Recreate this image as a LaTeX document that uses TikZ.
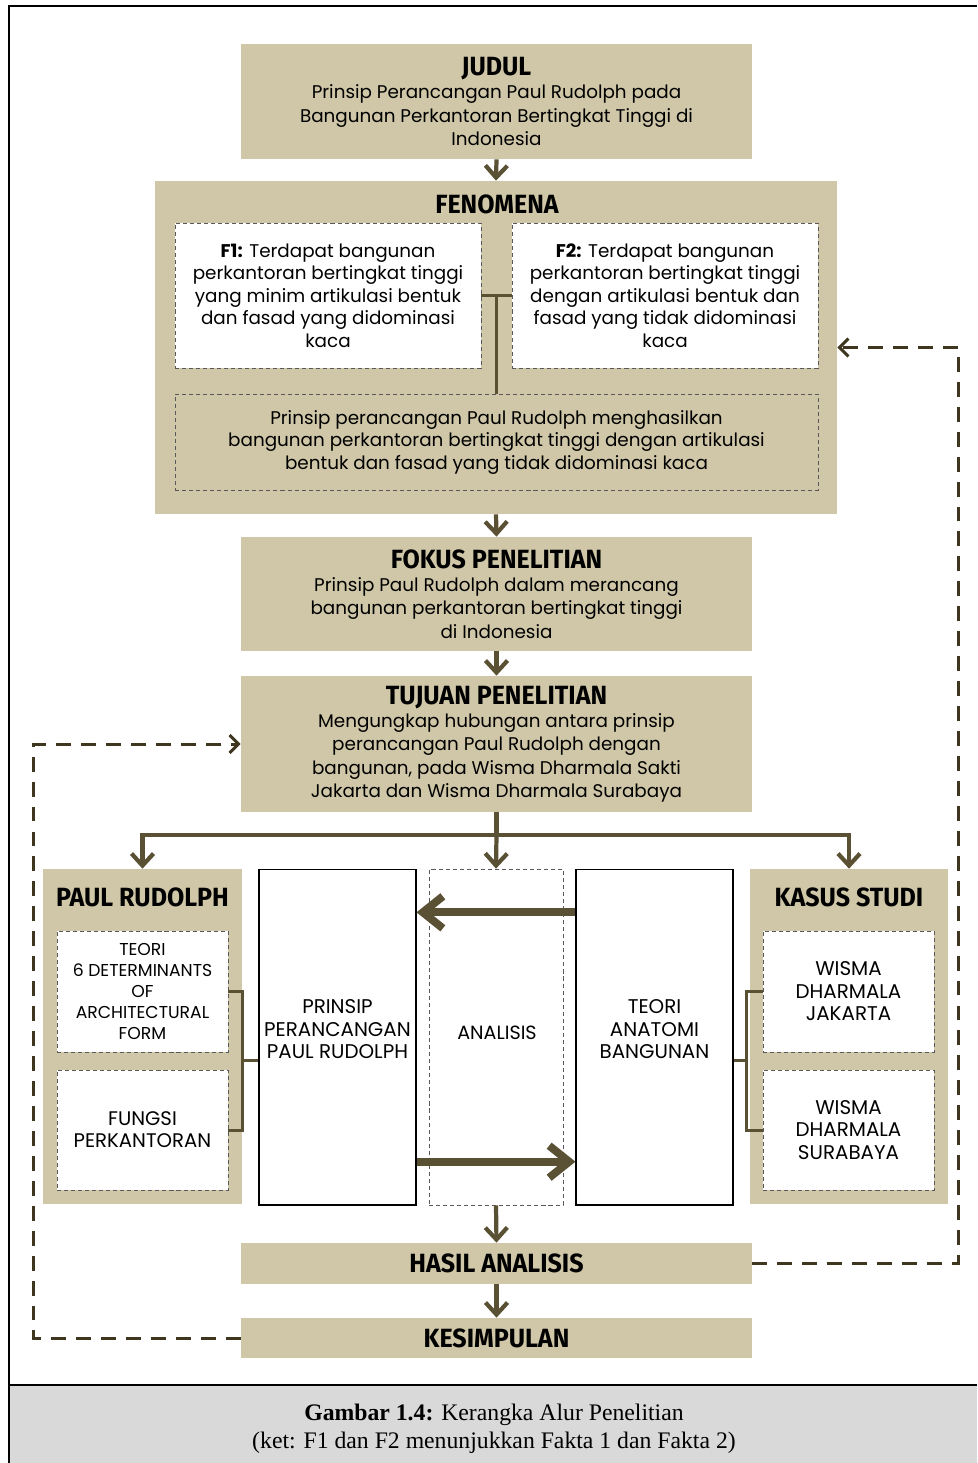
\documentclass[tikz,border=0pt]{standalone}
\usepackage{fontspec}
\setmainfont{Poppins}
\newfontfamily\headfont[FakeStretch=0.95]{Fira Sans}
\newfontfamily\capfont{Liberation Serif}
\usetikzlibrary{arrows.meta,calc}

\definecolor{khaki}{RGB}{207,199,167}
\definecolor{arrowbrown}{RGB}{90,81,52}
\definecolor{loopbrown}{RGB}{62,54,30}
\definecolor{capgray}{RGB}{217,217,217}

\newcommand{\boxtitle}[1]{{\headfont\bfseries\fontsize{15}{15}\selectfont #1}}
\newcommand{\flowarrow}[2]{\draw [flow] (#1) -- (#2);}

\tikzset{
  khakibox/.style={fill=khaki, minimum width=10.22cm, inner sep=0pt, align=center,
    font=\fontsize{10.45}{13.3}\selectfont},
  factbox/.style={fill=white, draw=black!65, line width=0.5pt, dash pattern=on 2.3pt off 1.7pt,
    minimum width=6.12cm, minimum height=2.9cm, inner sep=0pt, align=center,
    font=\fontsize{10.45}{12.8}\selectfont},
  colbox/.style={fill=white, draw=black, line width=0.6pt, minimum width=3.14cm,
    minimum height=6.72cm, inner sep=0pt},
  capsfont/.style={align=center, font=\fontsize{11.3}{12.8}\selectfont},
  flow/.style={draw=arrowbrown, line width=2.4pt, -{Straight Barb[length=2.4mm,width=4.4mm]}},
  bigflow/.style={draw=arrowbrown, line width=4.5pt, -{Straight Barb[length=4mm,width=6.4mm]}},
  link/.style={draw=arrowbrown, line width=1.7pt},
  loopback/.style={draw=loopbrown, line width=1.7pt, dash pattern=on 8.5pt off 5.7pt,
    -{Straight Barb[length=1.8mm,width=3.6mm]}}
}

\begin{document}
\begin{tikzpicture}[x=0.02cm,y=-0.02cm]
\useasboundingbox (0,0) rectangle (977,1463);
\fill[capgray] (9,1385) rectangle (977,1463);
\draw[line width=1.2pt] (9,1463) -- (9,6) -- (977,6);
\draw[line width=1pt] (9,1385) -- (977,1385);

\node[khakibox, minimum height=2.3cm] (judul) at (496.5,101.5) {\boxtitle{JUDUL}\\Prinsip Perancangan Paul Rudolph pada\\Bangunan Perkantoran Bertingkat Tinggi di\\Indonesia};

\node[khakibox, minimum width=13.64cm, minimum height=6.66cm] (fenomena) at (496,347.5) {};
\node (fentitle) at (497,204) {\boxtitle{FENOMENA}};
\node[factbox] (f1) at (328,295.5) {\textbf{F1:} Terdapat bangunan\\perkantoran bertingkat tinggi\\yang minim artikulasi bentuk\\dan fasad yang didominasi\\kaca};
\node[factbox] (f2) at (665,295.5) {\textbf{F2:} Terdapat bangunan\\perkantoran bertingkat tinggi\\dengan artikulasi bentuk dan\\fasad yang tidak didominasi\\kaca};
\node[factbox, fill=khaki, minimum width=12.86cm, minimum height=1.92cm] (hipotesis) at (496.5,442) {Prinsip perancangan Paul Rudolph menghasilkan\\bangunan perkantoran bertingkat tinggi dengan artikulasi\\bentuk dan fasad yang tidak didominasi kaca};

\node[khakibox, minimum height=2.28cm] (fokus) at (496.5,594) {\boxtitle{FOKUS PENELITIAN}\\Prinsip Paul Rudolph dalam merancang\\bangunan perkantoran bertingkat tinggi\\di Indonesia};
\node[khakibox, minimum height=2.72cm] (tujuan) at (496.5,744) {\boxtitle{TUJUAN PENELITIAN}\\Mengungkap hubungan antara prinsip\\perancangan Paul Rudolph dengan\\bangunan, pada Wisma Dharmala Sakti\\Jakarta dan Wisma Dharmala Surabaya};

\node[khakibox, minimum width=3.98cm, minimum height=6.7cm] (paul) at (142.5,1036.5) {};
\node (paultitle) at (142.5,897) {\boxtitle{PAUL RUDOLPH}};
\node[factbox, minimum width=3.42cm, minimum height=2.42cm, font=\fontsize{9.8}{12}\selectfont] (teori) at (142.5,991.5) {TEORI\\6 DETERMINANTS\\OF\\ARCHITECTURAL\\FORM};
\node[factbox, minimum width=3.42cm, minimum height=2.4cm, font=\fontsize{11.2}{12.6}\selectfont] (fungsi) at (142.5,1130) {FUNGSI\\PERKANTORAN};

\node[colbox] (prinsip) at (337.5,1037) {};
\node[capsfont] (prinsiptext) at (337.5,1029.5) {PRINSIP\\PERANCANGAN\\PAUL RUDOLPH};
\node[colbox, draw=black!65, line width=0.5pt, dash pattern=on 2.3pt off 1.7pt, minimum width=2.68cm] (analisis) at (496,1037) {};
\node[capsfont, font=\fontsize{10.9}{12.8}\selectfont] (analisistext) at (497,1033) {ANALISIS};
\node[colbox] (anatomi) at (654.5,1037) {};
\node[capsfont] (anatomitext) at (654.5,1029.5) {TEORI\\ANATOMI\\BANGUNAN};

\node[khakibox, minimum width=3.96cm, minimum height=6.7cm] (kasus) at (849,1036.5) {};
\node (kasustitle) at (849,897) {\boxtitle{KASUS STUDI}};
\node[factbox, minimum width=3.42cm, minimum height=2.42cm, font=\fontsize{11.3}{12.8}\selectfont] (jakarta) at (848.5,991.5) {WISMA\\DHARMALA\\JAKARTA};
\node[factbox, minimum width=3.42cm, minimum height=2.4cm, font=\fontsize{11.3}{12.8}\selectfont] (surabaya) at (848.5,1130) {WISMA\\DHARMALA\\SURABAYA};

\node[khakibox, minimum height=0.82cm] (hasil) at (496.5,1263.5) {\boxtitle{HASIL ANALISIS}};
\node[khakibox, minimum height=0.8cm] (kesimpulan) at (496.5,1338) {\boxtitle{KESIMPULAN}};

\node[font=\capfont\fontsize{13.5}{16}\selectfont, align=center] (caption) at (494,1429) {\textbf{Gambar 1.4:} Kerangka Alur Penelitian\\(ket: F1 dan F2 menunjukkan Fakta 1 dan Fakta 2)};

\flowarrow{judul.south}{fenomena.north}
\draw[link] (f1.east) -- (f2.west);
\draw[link] (f1.east -| hipotesis.north) -- (hipotesis.north);
\flowarrow{fenomena.south}{fokus.north}
\flowarrow{fokus.south}{tujuan.north}

\coordinate (split) at (496.5,835);
\draw[link, line width=2.4pt] (tujuan.south) -- (split);
\draw[flow] (split) -| (paul.north);
\flowarrow{split}{analisis.north}
\draw[flow] (split) -| (kasus.north);

\coordinate (lbrk) at ($(teori.east)!0.5!(fungsi.east)+(14,0)$);
\draw[link] (teori.east) -- ++(14,0) |- (fungsi.east);
\draw[link] (lbrk) -- (lbrk -| prinsip.west);
\coordinate (rbrk) at ($(jakarta.west)!0.5!(surabaya.west)+(-16,0)$);
\draw[link] (jakarta.west) -- ++(-16,0) |- (surabaya.west);
\draw[link] (rbrk) -- (rbrk -| anatomi.east);

\draw[bigflow] ($(anatomi.north west)!0.13!(anatomi.south west)$) -- ($(prinsip.north east)!0.13!(prinsip.south east)$);
\draw[bigflow] ($(prinsip.north east)!0.87!(prinsip.south east)$) -- ($(anatomi.north west)!0.87!(anatomi.south west)$);

\flowarrow{analisis.south}{hasil.north}
\flowarrow{hasil.south}{kesimpulan.north}

\draw[loopback] (hasil.east) -- ++(206,0) |- (fenomena.east);
\draw[loopback] (kesimpulan.west) -- ++(-207,0) |- (tujuan.west);
\end{tikzpicture}
\end{document}
